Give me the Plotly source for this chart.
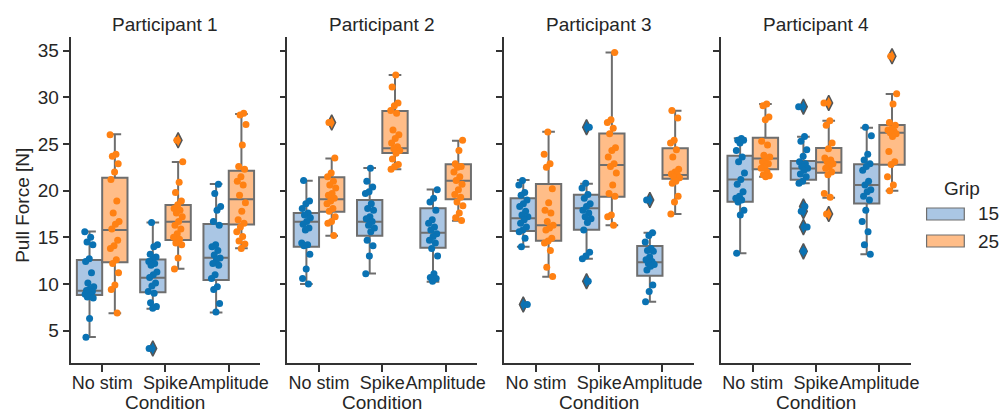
import plotly.graph_objects as go

# ---------------- data ----------------
PARTICIPANTS = ["Participant 1", "Participant 2", "Participant 3", "Participant 4"]
CONDITIONS = ["No stim", "Spike", "Amplitude"]
GRIPS = ["15", "25"]

# box stats per condition: [lower whisker, q1, median, q3, upper whisker]
P1_15_BOX = [[4.32, 8.82, 9.29, 12.57, 15.64], [7.36, 9.11, 10.68, 12.64, 16.6], [6.96, 10.43, 12.82, 16.43, 20.71]]
P1_25_BOX = [[6.86, 12.32, 15.79, 21.39, 26.04], [11.64, 14.71, 16.68, 18.46, 23.07], [13.82, 16.39, 19.07, 22.14, 28.21]]
P2_15_BOX = [[10.0, 14.0, 16.68, 17.61, 21.07], [11.14, 15.18, 16.68, 19.0, 22.43], [10.25, 13.89, 15.5, 18.11, 20.14]]
P2_25_BOX = [[15.18, 17.75, 19.07, 21.43, 23.46], [22.29, 24.04, 24.54, 28.54, 32.39], [16.79, 19.07, 21.07, 22.82, 25.36]]
P3_15_BOX = [[14.0, 15.68, 17.04, 19.18, 21.14], [12.71, 15.82, 18.11, 19.57, 20.75], [8.11, 10.89, 12.32, 14.07, 15.5]]
P3_25_BOX = [[10.79, 14.64, 16.29, 20.71, 26.32], [16.29, 19.36, 22.75, 26.14, 34.82], [17.5, 21.29, 21.68, 24.54, 28.57]]
P4_15_BOX = [[13.29, 18.82, 21.21, 23.75, 25.61], [20.79, 21.18, 22.39, 23.18, 25.79], [13.18, 18.64, 20.61, 22.82, 26.75]]
P4_25_BOX = [[21.5, 22.29, 23.46, 25.68, 29.29], [19.25, 21.93, 23.04, 24.57, 27.5], [20.0, 22.79, 26.21, 27.04, 30.36]]

# individual trials per condition
P1_15 = [
    [15.6, 15.0, 14.5, 14.2, 12.7, 12.4, 11.2, 10.1, 9.7, 9.5, 9.3, 9.2, 9.0, 8.9, 8.8, 8.6, 8.5, 6.3, 4.3],
    [16.6, 14.2, 14.0, 13.2, 12.9, 12.6, 12.4, 12.2, 12.0, 11.3, 11.0, 10.7, 10.1, 9.8, 9.2, 9.0, 8.0, 7.6, 7.4, 3.1],
    [20.7, 19.7, 18.3, 17.9, 16.7, 16.3, 14.2, 14.0, 13.6, 13.1, 12.8, 12.6, 12.2, 12.0, 11.0, 10.6, 9.7, 9.4, 7.9, 7.0],
]
P1_25 = [
    [26.0, 23.9, 23.7, 22.9, 22.0, 21.2, 18.9, 17.6, 16.7, 16.4, 15.9, 14.7, 14.1, 13.8, 12.6, 12.2, 11.2, 9.9, 9.4, 6.9],
    [25.4, 23.1, 20.9, 19.8, 18.9, 18.5, 18.1, 17.9, 17.6, 17.2, 16.7, 16.3, 15.9, 15.4, 15.0, 14.8, 14.4, 14.2, 12.8, 11.6],
    [28.3, 28.1, 27.1, 24.9, 22.6, 22.3, 21.5, 21.0, 20.6, 19.5, 18.7, 17.8, 16.9, 16.5, 16.1, 15.6, 15.1, 14.6, 14.3, 13.8],
]
P2_15 = [
    [21.1, 18.9, 18.6, 18.1, 17.6, 17.4, 17.1, 16.7, 16.4, 16.0, 15.8, 14.4, 14.2, 14.1, 13.2, 11.6, 10.6, 10.0],
    [22.4, 21.0, 20.4, 19.9, 19.7, 18.6, 18.1, 17.9, 17.2, 17.0, 16.7, 16.3, 16.0, 15.6, 14.7, 14.1, 13.0, 11.1],
    [20.1, 19.2, 18.8, 17.9, 16.9, 16.5, 16.1, 15.8, 15.4, 15.1, 14.7, 14.4, 13.8, 13.0, 11.1, 10.7, 10.6, 10.3],
]
P2_25 = [
    [27.3, 23.5, 21.9, 21.5, 21.0, 20.6, 20.3, 19.7, 19.5, 19.2, 18.9, 18.6, 18.1, 17.8, 17.2, 16.7, 16.5, 15.2],
    [32.4, 31.1, 29.4, 29.1, 28.6, 28.3, 26.5, 26.0, 25.6, 25.1, 24.7, 24.5, 24.3, 24.0, 23.4, 22.8, 22.6, 22.3],
    [25.4, 24.3, 22.9, 22.6, 22.5, 22.0, 21.5, 21.1, 20.7, 20.1, 19.6, 19.3, 18.8, 18.4, 17.6, 17.1, 16.8],
]
P3_15 = [
    [21.1, 20.6, 19.8, 19.5, 19.0, 18.6, 18.3, 17.8, 17.4, 17.2, 16.9, 16.5, 16.1, 15.8, 15.6, 14.9, 14.0, 7.8],
    [26.8, 20.8, 20.3, 19.6, 19.2, 18.6, 18.3, 17.9, 17.6, 17.2, 17.0, 16.6, 15.8, 13.4, 13.0, 12.7, 10.3],
    [19.0, 15.5, 15.2, 14.5, 13.8, 13.6, 13.5, 12.9, 12.6, 12.4, 12.2, 12.1, 11.9, 11.5, 9.9, 9.2, 8.1],
]
P3_25 = [
    [26.3, 23.9, 22.9, 22.5, 20.2, 18.7, 17.9, 17.6, 16.7, 16.3, 16.0, 15.8, 14.9, 14.6, 14.4, 13.6, 11.8, 10.8],
    [34.8, 27.6, 27.3, 26.7, 26.1, 24.6, 24.3, 23.6, 22.9, 22.6, 21.9, 20.6, 19.7, 19.4, 17.4, 17.2, 16.3],
    [28.6, 27.8, 25.4, 25.1, 24.4, 23.6, 22.3, 22.0, 21.8, 21.7, 21.5, 21.4, 21.0, 20.8, 19.4, 18.8, 17.5],
]
P4_15 = [
    [25.6, 25.4, 25.4, 25.1, 24.3, 23.6, 23.1, 21.9, 21.2, 20.7, 19.9, 19.4, 19.2, 19.0, 18.8, 17.9, 17.4, 13.3],
    [29.0, 25.8, 25.3, 24.4, 23.7, 23.1, 22.9, 22.6, 22.4, 22.2, 21.8, 21.5, 21.0, 20.8, 18.3, 17.8, 16.1, 13.5],
    [26.8, 25.9, 23.9, 23.3, 22.9, 22.6, 22.2, 21.0, 20.6, 20.1, 19.9, 19.4, 19.0, 17.9, 16.7, 15.6, 14.2, 13.2],
]
P4_25 = [
    [29.3, 29.1, 27.9, 27.6, 25.3, 24.9, 23.8, 23.6, 23.5, 23.1, 22.9, 22.5, 22.4, 22.0, 21.7, 21.6, 21.5],
    [29.4, 27.5, 27.0, 25.1, 24.5, 23.5, 23.3, 23.1, 22.9, 22.6, 22.4, 22.0, 21.7, 19.7, 19.3, 17.5],
    [34.4, 30.4, 29.3, 27.3, 27.0, 26.6, 26.5, 26.4, 26.2, 26.1, 25.8, 24.2, 23.1, 22.8, 21.5, 20.6, 20.0],
]

BOXES = [(P1_15_BOX, P1_25_BOX), (P2_15_BOX, P2_25_BOX), (P3_15_BOX, P3_25_BOX), (P4_15_BOX, P4_25_BOX)]
POINTS = [(P1_15, P1_25), (P2_15, P2_25), (P3_15, P3_25), (P4_15, P4_25)]

# ---------------- styles ----------------
W, H = 1008, 414
FONT = "Liberation Sans, Arial, sans-serif"
FS = 19
FS_TICK = 18
TXT = "#262626"
AX = "#333333"
EDGE = "#6e6e6e"
BOX_FILL = {"15": "#aac6e4", "25": "#ffbd88"}
DOT = {"15": "#0a72b3", "25": "#ff8113"}
HUE_OFF = {"15": -0.2, "25": 0.2}

PLOT_TOP, PLOT_BOT = 36.7, 362.7
PANEL_LEFT0, PANEL_STEP, PANEL_W = 71.1, 218.6, 191.4
Y_RANGE = [1.57, 36.5]

fig = go.Figure()

for p in range(4):
    xa = "x" if p == 0 else f"x{p+1}"
    ya = "y" if p == 0 else f"y{p+1}"
    for g, grip in enumerate(GRIPS):
        stats = BOXES[p][g]
        xs = [c + HUE_OFF[grip] for c in range(len(CONDITIONS))]
        fig.add_trace(go.Box(
            x=xs,
            lowerfence=[s[0] for s in stats],
            q1=[s[1] for s in stats],
            median=[s[2] for s in stats],
            q3=[s[3] for s in stats],
            upperfence=[s[4] for s in stats],
            width=0.4,
            whiskerwidth=0.5,
            boxpoints=False,
            fillcolor=BOX_FILL[grip],
            line=dict(color=EDGE, width=2),
            hoverinfo="skip",
            showlegend=False,
            xaxis=xa, yaxis=ya,
        ))
    # outlier diamonds (beyond whiskers)
    for g, grip in enumerate(GRIPS):
        ox, oy = [], []
        for c in range(len(CONDITIONS)):
            lo, hi = BOXES[p][g][c][0], BOXES[p][g][c][4]
            for v in POINTS[p][g][c]:
                if v < lo - 0.25 or v > hi + 0.25:
                    ox.append(c + HUE_OFF[grip])
                    oy.append(v)
        if ox:
            fig.add_trace(go.Scatter(
                x=ox, y=oy, mode="markers",
                marker=dict(symbol="diamond-tall", size=11, color=DOT[grip],
                            line=dict(color="#555555", width=1.5)),
                hoverinfo="skip", showlegend=False, xaxis=xa, yaxis=ya,
            ))
    # strip points
    for g, grip in enumerate(GRIPS):
        sx, sy = [], []
        for c in range(len(CONDITIONS)):
            vals = POINTS[p][g][c]
            for i, v in enumerate(vals):
                jit = (((i * 0.618034 + 0.37 * c + 0.21 * p) % 1.0) - 0.5) * 0.15
                sx.append(c + HUE_OFF[grip] + jit)
                sy.append(v)
        fig.add_trace(go.Scatter(
            x=sx, y=sy, mode="markers",
            marker=dict(size=7, color=DOT[grip], line=dict(width=0)),
            hoverinfo="skip", showlegend=False, xaxis=xa, yaxis=ya,
        ))

layout = dict(
    width=W, height=H,
    margin=dict(l=0, r=0, t=0, b=0),
    paper_bgcolor="white", plot_bgcolor="white",
    font=dict(family=FONT, size=FS, color=TXT),
    boxmode="overlay",
    showlegend=False,
)
ydom = [1 - PLOT_BOT / H, 1 - PLOT_TOP / H]
annotations = []
for p in range(4):
    left = (PANEL_LEFT0 + PANEL_STEP * p) / W
    right = (PANEL_LEFT0 + PANEL_STEP * p + PANEL_W) / W
    sfx = "" if p == 0 else str(p + 1)
    layout["xaxis" + sfx] = dict(
        domain=[left, right], range=[-0.5, 2.5],
        anchor="y" + sfx,
        tickmode="array", tickvals=list(range(len(CONDITIONS))), ticktext=CONDITIONS,
        tickangle=0, ticklabelstandoff=-4,
        ticks="outside", ticklen=7, tickwidth=1.6, tickcolor=AX,
        showline=True, linecolor=AX, linewidth=1.6,
        showgrid=False, zeroline=False,
        tickfont=dict(size=FS_TICK, color=TXT),
        fixedrange=True,
    )
    layout["yaxis" + sfx] = dict(
        domain=ydom, range=Y_RANGE,
        anchor="x" + sfx,
        tickmode="array", tickvals=[5, 10, 15, 20, 25, 30, 35],
        ticks="outside", ticklen=6, tickwidth=1.6, tickcolor=AX,
        showline=True, linecolor=AX, linewidth=1.6,
        showgrid=False, zeroline=False,
        showticklabels=(p == 0),
        tickfont=dict(size=FS, color=TXT),
        fixedrange=True,
    )
    annotations.append(dict(
        text=PARTICIPANTS[p], xref="paper", yref="paper",
        x=(left + right) / 2, y=1 - 24 / H, xanchor="center", yanchor="middle",
        showarrow=False, font=dict(size=FS, color=TXT),
    ))
    annotations.append(dict(
        text="Condition", xref="paper", yref="paper",
        x=(left + right) / 2, y=0, xanchor="center", yanchor="bottom",
        borderpad=0,
        showarrow=False, font=dict(size=FS, color=TXT),
    ))

annotations.append(dict(
    text="Pull Force [N]", xref="paper", yref="paper",
    x=22 / W, y=1 - 205 / H, xanchor="center", yanchor="middle", textangle=-90,
    showarrow=False, font=dict(size=FS, color=TXT),
))

# legend (drawn manually to mimic seaborn patches)
shapes = []
annotations.append(dict(
    text="Grip", xref="paper", yref="paper",
    x=970 / W, y=1 - 188 / H, xanchor="center", yanchor="middle",
    showarrow=False, font=dict(size=FS, color=TXT),
))
for g, grip in enumerate(GRIPS):
    yc = 214 + 27 * g
    shapes.append(dict(
        type="rect", xref="paper", yref="paper",
        x0=934 / W, x1=972 / W, y0=1 - (yc + 6) / H, y1=1 - (yc - 6) / H,
        fillcolor=BOX_FILL[grip], line=dict(color=EDGE, width=1.2),
    ))
    annotations.append(dict(
        text=grip, xref="paper", yref="paper",
        x=1.0, y=1 - yc / H, xanchor="right", yanchor="middle",
        borderpad=0,
        showarrow=False, font=dict(size=FS, color=TXT),
    ))

layout["annotations"] = annotations
layout["shapes"] = shapes
fig.update_layout(**layout)

fig.write_html(
    "out.html",
    config={"displayModeBar": False},
    post_script="document.body.style.margin='0';document.body.style.overflow='hidden';",
)
